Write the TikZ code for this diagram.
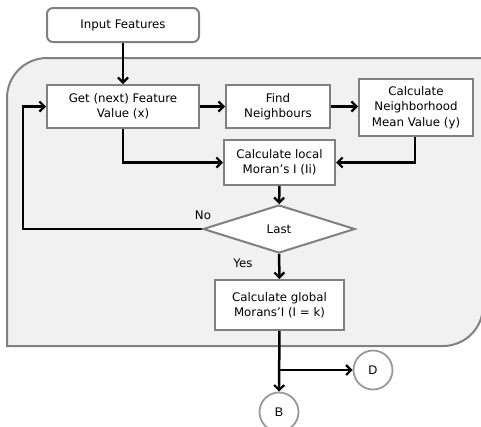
\documentclass[tikz,border=0pt]{standalone}
\usepackage{fontspec}
\setmainfont{DejaVu Sans}
\newfontfamily\arialf{Liberation Sans}
\usetikzlibrary{shapes.geometric,arrows.meta}
\definecolor{panelfill}{HTML}{F1F1F1}
\definecolor{boxline}{HTML}{808080}
\tikzset{
  procbox/.style={draw=boxline, line width=2pt, fill=white, align=center, inner sep=0pt, font=\fontsize{11.8}{15}\selectfont},
  conn/.style={line width=2.5pt, -{Straight Barb[length=5pt,width=10pt,line width=2.2pt]}},
  connector/.style={draw=boxline!80, line width=1.8pt, circle, fill=white, minimum size=39pt, inner sep=0pt, font=\arialf\fontsize{12.5}{14}\selectfont},
  lbl/.style={font=\fontsize{11.8}{14}\selectfont, inner sep=1pt}
}
\begin{document}
\begin{tikzpicture}[x=1pt,y=-1pt]
\useasboundingbox (0,0) rectangle (481,426);
\begin{scope}
\clip (0,0) rectangle (481,426);
\draw[draw=boxline, line width=2pt, fill=panelfill]
  (7,346) -- (7,98) arc[start angle=180, end angle=270, radius=40] -- (483,58)
  -- (483,306) arc[start angle=0, end angle=90, radius=40] -- cycle;
\end{scope}
\node[procbox, rounded corners=6pt, minimum width=152pt, minimum height=34pt] (inp) at (123,25) {Input Features};
\node[procbox, minimum width=152pt, minimum height=43pt] (get) at (123,106.5) {Get (next) Feature\\Value (x)};
\node[procbox, minimum width=104pt, minimum height=43pt] (find) at (278,106.5) {Find\\Neighbours};
\node[procbox, minimum width=114pt, minimum height=57pt, font=\fontsize{11.8}{15.5}\selectfont] (nmean) at (416,107.5) {Calculate\\Neighborhood\\Mean Value (y)};
\node[procbox, minimum width=111pt, minimum height=45pt] (loc) at (279.5,162.5) {Calculate local\\Moran's I (Ii)};
\node[procbox, diamond, aspect=3.17, minimum width=152pt, minimum height=48pt] (last) at (279,229) {Last};
\node[procbox, minimum width=129pt, minimum height=50pt] (glob) at (279.5,305) {Calculate global\\Morans'I (I = k)};
\node[connector] (d) at (373,370) {D};
\node[connector] (b) at (279,412) {B};
\coordinate (split) at (279,370);
\coordinate (loopL) at (23,229);

\draw[conn] (inp) -- (get);
\draw[conn] (get) -- (find);
\draw[conn] (find.east) -- (find.east -| nmean.west);
\draw[conn] (get.south) |- (loc.west);
\draw[conn] (nmean.south -| 415,0) |- (loc.east);
\draw[conn] (loc) -- (last);
\draw[conn] (last.west) -- (loopL) |- (get.west);
\draw[conn] (last) -- (glob);
\draw[conn] (glob) -- (b);
\draw[conn] (split) -- (d);
\node[lbl] at (203,215) {No};
\node[lbl] at (243,263) {Yes};
\end{tikzpicture}
\end{document}
